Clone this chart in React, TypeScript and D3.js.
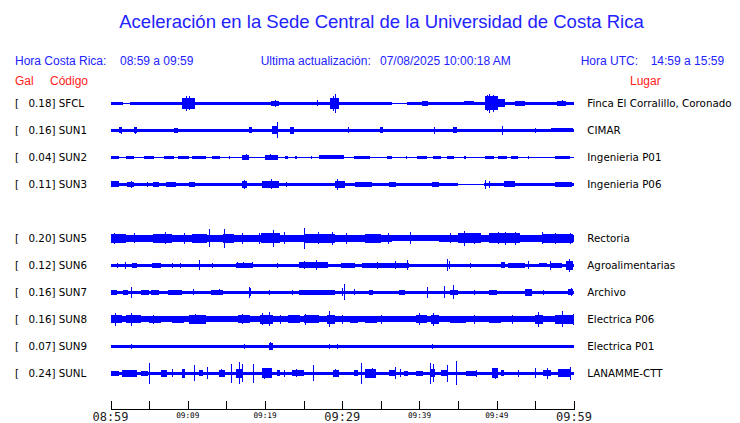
import React, { useEffect, useRef } from 'react';
import * as d3 from 'd3';

// station slots, top to bottom (SUN4 has no data in this window)
const slots = ["SFCL", "SUN1", "SUN2", "SUN3", "SUN4", "SUN5", "SUN6", "SUN7", "SUN8", "SUN9", "SUNL"];
const peakGal: (number | null)[] = [0.18, 0.16, 0.04, 0.11, null, 0.20, 0.12, 0.16, 0.16, 0.07, 0.24];
const places = ["Finca El Corralillo, Coronado", "CIMAR", "Ingenieria P01", "Ingenieria P06", "",
  "Rectoria", "Agroalimentarias", "Archivo", "Electrica P06", "Electrica P01", "LANAMME-CTT"];

// background noise level of each trace (relative amplitude)
const baseAmp: (number | null)[] = [1.3, 1.7, 0.5, 1.7, null, 3.5, 1.7, 1.7, 3, 1.5, 1.7];

// minutes after 08:59 -> [start, end, amplitude]
const quietSFCL = [[1.6, 2.5, 0.6], [36.4, 38.4, 0.4]];
const quietSUN3 = [[45, 48.3, 0.4]];
const quietSUN5 = [[36.4, 42.5, 3]];

const burstsSFCL = [[4.5, 5.2, 1.8], [9.3, 10.9, 5.3], [13, 14, 1.8], [16.5, 17.5, 1.8], [20.8, 21.8, 2.5],
  [28.4, 29.6, 5.3], [40.3, 41.1, 2.3], [45.7, 47, 2], [48.5, 50.2, 7], [50.2, 51.1, 4], [52.4, 53.7, 2.5], [57.8, 59, 2.5]];
const spikesSFCL = [[9.8, 7.3], [10.2, 7], [21.3, 3.2], [26.7, 3], [28.8, 7.5], [29.0, 9.6],
  [48.8, 8], [49.0, 9.3], [49.5, 8.5], [58.5, 3]];

const burstsSUN1 = [[1.1, 1.5, 3], [3.0, 3.4, 3], [8.2, 8.7, 2.5], [17.9, 18.3, 3], [20.9, 21.7, 4],
  [23.3, 23.7, 3.5], [34.9, 35.3, 3], [44.4, 44.8, 3], [57, 59.9, 2]];
const spikesSUN1 = [[1.3, 3.3], [3.2, 3.3], [21.5, 8], [30.7, 3], [41.9, 3.5], [50.7, 4.3], [55, 2.3]];

const burstsSUN2 = [[0, 1.1, 1.7], [2, 3, 1.8], [4.3, 5.6, 1.6], [6.9, 8.2, 1.6], [8.8, 10.1, 1.6],
  [10.6, 12.3, 1.6], [13.1, 14.2, 1.7], [17, 17.9, 2.3], [20, 21.7, 2.5], [22.6, 23, 1.5], [23.9, 24.2, 1.5],
  [27, 30.2, 2], [31.5, 33.6, 1.8], [35.8, 36.4, 1.5], [39.7, 41, 1.7], [41.8, 42.8, 1.6], [43.5, 44.5, 1.6],
  [45.7, 46, 1.3], [48.5, 49.6, 1.7], [50.2, 51.3, 1.8], [51.8, 52.8, 1.6], [57.5, 59.5, 1.8]];
const spikesSUN2 = [[15.3, 1.5], [17.5, 3], [20.7, 3], [26, 1.3], [38.2, 1.3], [54, 1.2]];

const burstsSUN3 = [[0, 1.1, 3], [2.2, 3, 2.5], [5.5, 6.3, 2.3], [7.2, 8.5, 2.3], [10.1, 11, 2.5],
  [17, 17.7, 3.5], [19.6, 21.8, 3.5], [29.1, 30.4, 3.5], [31.7, 33.8, 2.5], [36, 37, 2.2],
  [41.6, 42.5, 2.5], [50.9, 52.4, 3], [57.5, 59.7, 2.5]];
const spikesSUN3 = [[2.6, 3.5], [4.7, 2.5], [17.3, 4.7], [20.8, 5], [22.7, 2.5], [29.3, 5.5], [48.5, 4.5], [49, 3.5]];

const burstsSUN5 = [[0, 2, 4.5], [5.5, 8, 4.5], [10.5, 12.5, 4.5], [14.5, 16, 4.3], [19.5, 22, 5],
  [25, 29, 4.5], [33, 35, 4.3], [45, 48, 5], [49, 53, 5], [56, 59.9, 4.5]];
const spikesSUN5 = [[0.5, 5.5], [3, 5], [7.1, 6], [9.5, 5.3], [12.8, 9], [14.7, 9.3], [17, 5.5], [19.2, 5.5],
  [21.1, 8.5], [22.5, 6], [25.1, 10.5], [26.8, 6], [28.7, 6.5], [30.5, 5.5], [35.9, 5.5], [38.8, 6], [44, 5],
  [45.7, 7.5], [47, 5.8], [50.2, 6], [51.1, 6.3], [52.4, 6.5], [55.8, 6], [57.5, 5.5], [59.5, 5.2]];

const burstsSUN6 = [[2.8, 3.4, 2.3], [5.4, 6.5, 2.5], [16.2, 18.5, 2.3], [24.4, 28.2, 3], [29.9, 31.7, 2.7],
  [32.6, 38.6, 2.7], [50.6, 51.1, 3], [51.5, 53.7, 2.5], [55.5, 56.5, 2.2], [57, 58.5, 2.3], [59, 59.9, 4.5]];
const spikesSUN6 = [[0.8, 2.3], [1.9, 3.5], [8, 2.3], [9, 2.3], [11.5, 5], [13.2, 2.3], [16.4, 3], [17.2, 3],
  [18.3, 3], [21.5, 2.5], [25, 4], [26.6, 5], [34.5, 3.5], [36.8, 4], [38.4, 5], [43.5, 6], [43.8, 4],
  [46.5, 2.5], [54.1, 4], [56.9, 4.5], [59.4, 6.5]];

const burstsSUN7 = [[0, 0.8, 2.3], [1.6, 2.3, 2.3], [4, 5, 2.3], [5.3, 6.3, 2.3], [7.5, 9.2, 2.3], [13, 14.5, 2.3],
  [24.4, 29.1, 2.5], [33.5, 34, 2.3], [37.3, 38.1, 2.5], [44, 45, 2.3], [49, 50, 2.3], [53.7, 54.5, 3.5], [59.2, 59.9, 3]];
const spikesSUN7 = [[2.7, 5.5], [10.7, 3], [14, 3], [17.9, 5.5], [18.1, 4], [20.5, 2.7], [23.5, 2.5], [30.0, 4],
  [30.2, 8], [31.5, 3], [41, 5.5], [43.2, 6], [44.4, 7], [47, 2.5], [56, 2.5], [59.6, 4]];

const burstsSUN8 = [[0, 1.5, 4], [2, 4, 4], [5, 6.5, 3.7], [8, 9.5, 3.7], [10.1, 12.3, 4.5], [16.5, 18, 4],
  [19.3, 21, 4.5], [23, 24.5, 3.8], [25, 27, 4.2], [28, 29, 4.5], [31, 32, 3.7], [33, 34.5, 3.7], [39.5, 41, 4],
  [41.5, 42.5, 4.3], [44, 46, 3.7], [49, 50.5, 3.7], [55, 56, 4.3], [57.5, 59.9, 4.5]];
const spikesSUN8 = [[0.6, 6.5], [2.6, 6.5], [5.5, 4.5], [11, 5], [17, 5.2], [19.6, 6], [20.5, 7], [22, 4.5],
  [25.2, 5.5], [28.3, 8.2], [30, 4.5], [35, 4.5], [39.9, 6], [41.8, 6.5], [47, 4.5], [52, 4.5], [55.4, 7.7],
  [58.5, 8], [59.9, 5.5]];

const burstsSUN9 = [[20.5, 21.1, 3.5]];
const spikesSUN9 = [[2.6, 2.5], [17.3, 2.3], [20.7, 4], [28.3, 2.5], [29.3, 2.3], [41.6, 2.5]];

const burstsSUNL = [[0, 1.1, 2.7], [1.5, 3.4, 3.5], [4, 4.8, 2.5], [6.5, 7.3, 3.5], [9.3, 9.7, 4.5], [11.5, 12, 3],
  [14, 14.8, 3.5], [16.3, 17.2, 4.5], [19.6, 20.9, 5], [21.5, 22, 3], [23.5, 25, 3], [28.8, 29.6, 3.5],
  [31.5, 32, 3], [33, 34.3, 4.5], [36, 37, 2.8], [38, 38.5, 2.7], [39.5, 40.5, 2.7], [41.3, 42, 4],
  [42.8, 43.5, 3], [46, 47.5, 2.5], [49.4, 50.2, 5], [50.5, 51, 3], [56, 57, 3], [57.9, 59.5, 4]];
const spikesSUNL = [[5, 10.3], [8, 3.8], [10.8, 8], [12.5, 6], [14.3, 4], [15.6, 9.5], [16.6, 11], [17, 9],
  [18.4, 9.5], [19.9, 5.5], [22.5, 3.5], [24, 3.8], [26.2, 8], [29.1, 4], [32.4, 10.5], [33.8, 5], [34.2, 4.5],
  [36.8, 6], [37.5, 4], [41.4, 10.5], [41.7, 9], [43.5, 8.5], [44.7, 12], [47.3, 3.5], [49.8, 5.5],
  [52.8, 3.5], [54.9, 5], [56.5, 5.5], [59, 4], [59.5, 6.5]];

const quiet: Record<string, number[][]> = { SFCL: quietSFCL, SUN3: quietSUN3, SUN5: quietSUN5 };
const bursts: Record<string, number[][]> = {
  SFCL: burstsSFCL, SUN1: burstsSUN1, SUN2: burstsSUN2, SUN3: burstsSUN3, SUN5: burstsSUN5,
  SUN6: burstsSUN6, SUN7: burstsSUN7, SUN8: burstsSUN8, SUN9: burstsSUN9, SUNL: burstsSUNL,
};
const spikes: Record<string, number[][]> = {
  SFCL: spikesSFCL, SUN1: spikesSUN1, SUN2: spikesSUN2, SUN3: spikesSUN3, SUN5: spikesSUN5,
  SUN6: spikesSUN6, SUN7: spikesSUN7, SUN8: spikesSUN8, SUN9: spikesSUN9, SUNL: spikesSUNL,
};

const tickMinutes = d3.range(0, 61, 5);
const majorLabels: Record<number, string> = { 0: "08:59", 30: "09:29", 60: "09:59" };
const minorLabels: Record<number, string> = { 10: "09:09", 20: "09:19", 40: "09:39", 50: "09:49" };

const BLUE = "#0000ff";
const TXT_BLUE = "#2222ff";
const RED = "#ff2020";
const SANS = "'Liberation Sans', Arial, sans-serif";
const DEJA = "'DejaVu Sans', sans-serif";
const MONO = "'DejaVu Sans Mono', monospace";

const App: React.FC = () => {
  const svgRef = useRef<SVGSVGElement>(null);

  useEffect(() => {
    if (!svgRef.current) return;
    document.body.style.margin = "0";
    const svg = d3.select(svgRef.current);
    svg.selectAll("*").remove();

    const x = d3.scaleLinear().domain([0, 60]).range([110.5, 574]);
    const y = d3.scalePoint<string>().domain(slots).range([103.3, 373.3]);
    const amp = d3.scaleLinear().domain([0, 13.5]).range([0, 13.5]);

    // Title and header
    svg.append("text").attr("x", 381.5).attr("y", 28).attr("text-anchor", "middle")
      .attr("font-family", SANS).attr("font-size", 18.5).attr("fill", TXT_BLUE)
      .text("Aceleración en la Sede Central de la Universidad de Costa Rica");

    const header: [number, string][] = [
      [15, "Hora Costa Rica:"], [120, "08:59 a 09:59"],
      [260.7, "Ultima actualización:"], [380, "07/08/2025 10:00:18 AM"],
      [580.7, "Hora UTC:"], [650.7, "14:59 a 15:59"],
    ];
    header.forEach(([hx, t]) => {
      svg.append("text").attr("x", hx).attr("y", 65).attr("font-family", SANS)
        .attr("font-size", 12).attr("fill", TXT_BLUE).text(t);
    });
    const redHeader: [number, string][] = [[15, "Gal"], [50, "Código"], [630, "Lugar"]];
    redHeader.forEach(([hx, t]) => {
      svg.append("text").attr("x", hx).attr("y", 85).attr("font-family", SANS)
        .attr("font-size", 12).attr("fill", RED).text(t);
    });

    // Traces
    slots.forEach((code, i) => {
      const base = baseAmp[i];
      if (base == null) return;
      const cy = y(code)!;
      const g = svg.append("g").attr("transform", `translate(0,${cy})`).attr("shape-rendering", "crispEdges");

      const q = quiet[code] || [];
      let start = 0;
      const segs: number[][] = [];
      q.forEach(([q0, q1]) => { segs.push([start, q0, base]); start = q1; });
      segs.push([start, 60, base]);

      // noise band, quiet stretches and bursts all drawn as envelope blocks
      [...segs, ...q, ...(bursts[code] || [])].forEach(([t0, t1, a]) => {
        g.append("rect").attr("x", x(t0)).attr("width", Math.max(1, x(t1) - x(t0)))
          .attr("y", -amp(a)).attr("height", 2 * amp(a))
          .attr("fill", BLUE);
      });

      (spikes[code] || []).forEach(([t, a]) => {
        const px = Math.round(x(t)) + 0.5;
        g.append("line").attr("x1", px).attr("x2", px)
          .attr("y1", -amp(a)).attr("y2", amp(a))
          .attr("stroke", BLUE).attr("stroke-width", 1);
      });

      // Labels
      const ty = cy + 3.8;
      svg.append("text").attr("x", 15).attr("y", ty).attr("font-family", DEJA).attr("font-size", 10.3).text("[");
      svg.append("text").attr("x", 55.5).attr("y", ty).attr("text-anchor", "end").attr("font-family", DEJA)
        .attr("font-size", 10.3).text(`${(peakGal[i] as number).toFixed(2)}]`);
      svg.append("text").attr("x", 58.7).attr("y", ty).attr("font-family", DEJA).attr("font-size", 10.3).text(code);
      svg.append("text").attr("x", 587.3).attr("y", ty).attr("font-family", DEJA).attr("font-size", 10.3).text(places[i]);
    });

    // Time axis
    const ax = svg.append("g").attr("shape-rendering", "crispEdges");
    ax.append("line").attr("x1", x(0)).attr("x2", x(60)).attr("y1", 409.5).attr("y2", 409.5)
      .attr("stroke", "#000");
    tickMinutes.forEach(m => {
      const px = Math.round(x(m)) + 0.5;
      ax.append("line").attr("x1", px).attr("x2", px).attr("y1", 401).attr("y2", 409.5).attr("stroke", "#000");
      if (majorLabels[m]) {
        svg.append("text").attr("x", x(m)).attr("y", 421).attr("text-anchor", "middle")
          .attr("font-family", MONO).attr("font-size", 12).attr("fill", "#222").text(majorLabels[m]);
      } else if (minorLabels[m]) {
        svg.append("text").attr("x", x(m)).attr("y", 417.5).attr("text-anchor", "middle")
          .attr("font-family", MONO).attr("font-size", 7.7).text(minorLabels[m]);
      }
    });
  }, []);

  return (
    <div style={{ position: "absolute", left: 0, top: 0 }}>
      <svg ref={svgRef} width={740} height={423} style={{ display: "block", background: "#fff" }} />
    </div>
  );
};

export default App;
